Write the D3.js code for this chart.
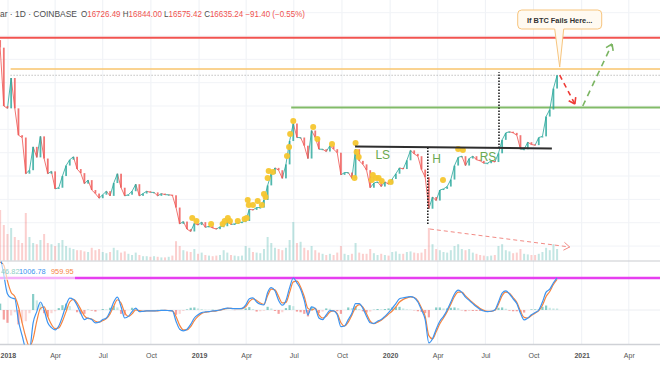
<!DOCTYPE html>
<html>
<head>
<meta charset="utf-8">
<script src="https://cdn.jsdelivr.net/npm/d3@7"></script>
<style>
  body { margin: 0; background: #fff; }
  svg { display: block; font-family: "Liberation Sans", Arial, sans-serif; }
</style>
</head>
<body>
<svg id="chart" width="660" height="365"></svg>
<script>
// BTC/USD weekly samples, starting 2017-12-17, one value per week
var firstWeek = "2017-12-17";
var firstOpen = 19650;
var closes = [
  19000, 14000, 13800, 16400, 13800, 11500, 11300, 8200, 8500, 10500,
  9600, 11400, 9500, 8200, 8400, 6900, 7000, 8000, 8900, 9400,
  9650, 8600, 8250, 7350, 7650, 6800, 6500, 6100, 6400, 6700,
  6300, 7400, 8200, 7000, 6300, 6400, 6700, 7300, 6300, 6500,
  6700, 6600, 6600, 6300, 6500, 6400, 6400, 6350, 5300, 3900,
  4100, 3450, 3250, 3950, 3800, 4050, 3600, 3700, 3550, 3450,
  3650, 3700, 4100, 3850, 3900, 4000, 4050, 4150, 5150, 5100,
  5300, 5300, 5950, 7200, 8200, 8700, 8500, 7800, 9000, 11000,
  12500, 11300, 11300, 10600, 9500, 11900, 11300, 10300, 10300, 10100,
  10600, 10300, 10000, 8100, 8300, 8300, 7800, 10300, 9300, 9000,
  8500, 7000, 7400, 7500, 7100, 7500, 7300, 7750, 8200, 8700,
  8600, 9350, 10200, 9900, 9700, 8550, 7900, 5200, 6200, 5900,
  6800, 6900, 7100, 7700, 8900, 9600, 9700, 8900, 9500, 9700,
  9400, 9300, 9100, 9100, 9300, 9200, 9950, 11100, 11700, 11800,
  11700, 11500, 10300, 10300, 10900, 10700, 10650, 11300, 11400, 13100,
  13700, 15500, 16635
];
var volumes = [
  85, 60, 45, 55, 40, 35, 30, 80, 40, 30,
  28, 35, 45, 30, 28, 25, 30, 35, 25, 22,
  20, 18, 18, 16, 15, 22, 18, 20, 15, 13,
  15, 22, 18, 14, 16, 12, 10, 14, 10, 8,
  8, 7, 8, 7, 6, 6, 7, 9, 33, 25,
  18, 16, 15, 20, 12, 14, 10, 9, 8, 9,
  10, 18, 14, 10, 9, 8, 9, 25, 22, 15,
  14, 13, 20, 40, 30, 22, 20, 18, 22, 35,
  65, 30, 32, 22, 18, 25, 18, 14, 12, 10,
  12, 10, 14, 25, 12, 10, 12, 30, 14, 12,
  12, 20, 13, 10, 12, 10, 9, 15, 16, 12,
  12, 15, 16, 14, 13, 14, 20, 55, 28, 20,
  18, 15, 14, 18, 25, 28, 20, 18, 20, 14,
  12, 10, 9, 8, 9, 10, 25, 28, 18, 16,
  13, 14, 20, 12, 11, 10, 10, 12, 15, 22,
  18, 28, 20
];
var macd = [
  1700, 1100, 500, 380, 350, -350, -800, -1200, -1250, -400,
  -50, 250, 0, -400, -550, -620, -500, -200, 150, 370,
  330, 150, -100, -300, -250, -300, -400, -380, -300, -250,
  -50, 250, 400, 100, -250, -200, -50, 60, -50, -40,
  -30, -30, -30, -20, -10, -10, -20, -30, -350, -600,
  -650, -600, -450, -250, -150, -80, -60, -50, -30, -20,
  0, 40, 60, 50, 40, 40, 50, 150, 350, 380,
  250, 180, 160, 550, 700, 600, 300, 150, 300, 700,
  1000, 850, 650, 300, -150, 100, 50, -250, -300, -150,
  -20, -30, -150, -520, -500, -300, -100, 200, 200, 50,
  -200, -400, -420, -350, -300, -200, -80, 50, 200, 350,
  380, 400, 420, 380, 250, 0, -300, -1030, -900, -600,
  -350, -200, 0, 250, 500, 620, 550, 400, 300, 200,
  100, 20, -30, -50, -40, 0, 250, 530, 600, 500,
  350, 200, -100, -310, -250, -150, -80, 0, 250, 560,
  650, 850, 1006.78
];
var signal = [
  1500, 1400, 900, 550, 420, 100, -400, -850, -1150, -900,
  -350, 50, 100, -200, -450, -580, -560, -350, -50, 250,
  330, 220, 20, -180, -260, -280, -350, -380, -330, -270,
  -120, 120, 320, 220, -80, -200, -120, 0, -20, -40,
  -30, -30, -30, -25, -15, -10, -15, -25, -200, -480,
  -620, -620, -520, -330, -200, -110, -70, -55, -40, -25,
  -5, 25, 50, 50, 45, 40, 45, 100, 260, 350,
  300, 220, 180, 450, 650, 630, 420, 220, 240, 550,
  880, 900, 720, 420, 50, 0, 50, -150, -250, -200,
  -60, -30, -110, -400, -500, -380, -160, 80, 170, 90,
  -120, -350, -430, -380, -320, -230, -130, -30, 100, 250,
  330, 380, 410, 390, 290, 60, -200, -800, -900, -680,
  -430, -250, -50, 180, 420, 560, 560, 440, 330, 230,
  130, 50, -10, -40, -40, -10, 180, 450, 560, 520,
  390, 240, -30, -230, -250, -170, -100, -20, 150, 420,
  580, 800, 959.95
];

// yellow signal markers [date, price]
var dots = [
  ["2018-12-19", 4400], ["2018-12-27", 4145], ["2019-01-24", 3890], ["2019-02-15", 3890],
  ["2019-02-19", 4145], ["2019-02-25", 4400], ["2019-03-01", 4145], ["2019-03-16", 4145],
  ["2019-03-29", 4320], ["2019-04-02", 4400], ["2019-04-04", 5945], ["2019-04-06", 5515],
  ["2019-04-14", 5515], ["2019-04-23", 5860], ["2019-05-01", 5515], ["2019-05-05", 6460],
  ["2019-05-08", 6200], ["2019-05-12", 7830], ["2019-05-14", 8430], ["2019-05-22", 8345],
  ["2019-06-18", 9715], ["2019-06-22", 10490], ["2019-06-24", 11600], ["2019-06-30", 12715],
  ["2019-08-07", 12200], ["2019-08-15", 11170], ["2019-09-12", 10745], ["2019-10-25", 7830],
  ["2019-10-27", 10830], ["2019-10-29", 10060], ["2019-11-02", 9630], ["2019-11-27", 7660],
  ["2019-11-29", 8090], ["2019-12-05", 7830], ["2019-12-10", 7830], ["2019-12-16", 7570],
  ["2020-01-02", 7490], ["2020-04-11", 7660], ["2020-05-10", 10315], ["2020-05-19", 10230]
];

// drawn levels and pattern annotations
var levelPrices = [19850, 17170, 13880];
var levelStarts = ["2017-12-01", "2018-01-06", "2019-06-26"];
var necklineDates = ["2019-10-26", "2020-11-05"];
var necklinePrices = [10530, 10360];
var moveDates = ["2020-03-13", "2020-07-27"];
var moveFrom = [10450, 10400];
var moveTo = [3800, 16900];
var patternLabels = ["LS", "H", "RS"];
var patternDates = ["2019-12-18", "2020-03-30", "2020-07-06"];
var patternPrices = [9800, 9460, 9630];
var volArrow = [["2020-03-17", 3460], ["2020-12-09", 1920]];
var failArrow = [["2020-11-20", 16650], ["2020-12-19", 14170]];
var bounceArrow = [["2021-01-03", 14000], ["2021-02-28", 19310]];
var callout = ["2020-11-20", 17340];
var calloutText = "If BTC Fails Here...";

var gridPrices = [2000, 4000, 6000, 8000, 10000, 12000, 14000, 16000, 18000, 20000, 22000];
var xTickDates = ["2018-01-01", "2018-04-01", "2018-07-01", "2018-10-01", "2019-01-01", "2019-04-01",
  "2019-07-01", "2019-10-01", "2020-01-01", "2020-04-01", "2020-07-01", "2020-10-01", "2021-01-01", "2021-04-01"];
var xTickLabels = ["2018", "Apr", "Jul", "Oct", "2019", "Apr", "Jul", "Oct", "2020", "Apr", "Jul", "Oct", "2021", "Apr"];

var headerName = "ar · 1D · COINBASE";
var ohlcLetters = ["O", "H", "L", "C"];
var ohlcValues = ["16726.49", "16844.00", "16575.42", "16635.24"];
var changeText = "−91.40 (−0.55%)";
var macdLegend = ["46.82", "1006.78", "959.95"];

var UP = "#26a69a", DOWN = "#ef5350";

var svg = d3.select("#chart");
var parse = d3.utcParse("%Y-%m-%d");

var x = d3.scaleUtc().domain([parse("2018-01-01"), parse("2021-01-01")]).range([8, 581.7]);
var y = d3.scaleLinear().domain([0, 23000]).range([269.4, 1]);
var yVol = d3.scaleLinear().domain([0, 100]).range([261, 201]);
var yMacd = d3.scaleLinear().domain([0, 1000]).range([310, 278]);

var start = parse(firstWeek);
var bars = closes.map(function(c, i) {
  return {
    date: d3.utcDay.offset(start, 7 * i),
    open: i ? closes[i - 1] : firstOpen,
    close: c,
    vol: volumes[i],
    macd: macd[i],
    signal: signal[i],
    hist: macd[i] - signal[i]
  };
});

var defs = svg.append("defs");
defs.append("clipPath").attr("id", "pricePane").append("rect")
  .attr("x", 0).attr("y", 0).attr("width", 660).attr("height", 260.5);
defs.append("clipPath").attr("id", "macdPane").append("rect")
  .attr("x", 0).attr("y", 261.5).attr("width", 660).attr("height", 83);

// grid
var grid = svg.append("g");
grid.selectAll("line.v")
  .data(xTickDates)
  .enter()
  .append("line")
    .attr("x1", function(d) { return x(parse(d)); })
    .attr("x2", function(d) { return x(parse(d)); })
    .attr("y1", 0).attr("y2", 344)
    .attr("stroke", "#eef1f5").attr("stroke-width", 1);
grid.selectAll("line.h")
  .data(gridPrices)
  .enter()
  .append("line")
    .attr("x1", 0).attr("x2", 660)
    .attr("y1", function(d) { return y(d); })
    .attr("y2", function(d) { return y(d); })
    .attr("stroke", "#f1f3f7").attr("stroke-width", 1);

var price = svg.append("g").attr("clip-path", "url(#pricePane)");

// volume
price.append("g")
  .selectAll("rect")
  .data(bars)
  .enter()
  .append("rect")
    .attr("x", function(d) { return x(d.date) - 1; })
    .attr("width", 2)
    .attr("y", function(d) { return yVol(d.vol); })
    .attr("height", function(d) { return yVol(0) - yVol(d.vol); })
    .attr("fill", function(d) { return d.close >= d.open ? UP : DOWN; })
    .attr("opacity", 0.28);

// horizontal levels
var levelColors = ["#f25450", "#f9c46c", "#82bb68"];
var levelWidths = [2, 1.5, 2];
price.selectAll("line.level")
  .data(levelPrices)
  .enter()
  .append("line")
    .attr("x1", function(d, i) { return x(parse(levelStarts[i])); })
    .attr("x2", 660)
    .attr("y1", function(d) { return y(d); })
    .attr("y2", function(d) { return y(d); })
    .attr("stroke", function(d, i) { return levelColors[i]; })
    .attr("stroke-width", function(d, i) { return levelWidths[i]; });

// last price line
var lastClose = closes[closes.length - 1];
price.append("line")
  .attr("x1", x(parse(levelStarts[1]))).attr("x2", 660)
  .attr("y1", y(lastClose)).attr("y2", y(lastClose))
  .attr("stroke", "#8c8c8c").attr("stroke-width", 0.8).attr("stroke-dasharray", "1,2");

// candles: thin link between closes plus narrow bodies
price.append("g")
  .selectAll("line")
  .data(bars.slice(1))
  .enter()
  .append("line")
    .attr("x1", function(d, i) { return x(bars[i].date); })
    .attr("y1", function(d) { return y(d.open); })
    .attr("x2", function(d) { return x(d.date); })
    .attr("y2", function(d) { return y(d.close); })
    .attr("stroke", function(d) { return d.close >= d.open ? UP : DOWN; })
    .attr("stroke-width", 1)
    .attr("opacity", 0.8);
price.append("g")
  .selectAll("rect")
  .data(bars)
  .enter()
  .append("rect")
    .attr("x", function(d) { return x(d.date) - 0.9; })
    .attr("width", 1.8)
    .attr("y", function(d) { return y(Math.max(d.open, d.close)); })
    .attr("height", function(d) { return Math.max(1, Math.abs(y(d.open) - y(d.close))); })
    .attr("fill", function(d) { return d.close >= d.open ? UP : DOWN; })
    .attr("opacity", 0.8);

// yellow markers
price.append("g")
  .selectAll("circle")
  .data(dots)
  .enter()
  .append("circle")
    .attr("cx", function(d) { return x(parse(d[0])); })
    .attr("cy", function(d) { return y(d[1]); })
    .attr("r", 3)
    .attr("fill", "#f5c62f")
    .attr("opacity", 0.95);

// neckline
price.append("line")
  .attr("x1", x(parse(necklineDates[0]))).attr("y1", y(necklinePrices[0]))
  .attr("x2", x(parse(necklineDates[1]))).attr("y2", y(necklinePrices[1]))
  .attr("stroke", "#2e2e2e").attr("stroke-width", 2);

// measured move
price.selectAll("line.move")
  .data(moveDates)
  .enter()
  .append("line")
    .attr("x1", function(d) { return x(parse(d)); })
    .attr("x2", function(d) { return x(parse(d)); })
    .attr("y1", function(d, i) { return y(moveFrom[i]); })
    .attr("y2", function(d, i) { return y(moveTo[i]); })
    .attr("stroke", "#222").attr("stroke-width", 1.6).attr("stroke-dasharray", "1.5,1.5");

// LS / H / RS
price.selectAll("text.pattern")
  .data(patternLabels)
  .enter()
  .append("text")
    .attr("x", function(d, i) { return x(parse(patternDates[i])); })
    .attr("y", function(d, i) { return y(patternPrices[i]); })
    .attr("dy", "0.36em")
    .attr("text-anchor", "middle")
    .attr("font-size", 12)
    .attr("fill", "#6aa84f")
    .text(function(d) { return d; });

function arrow(g, pts, color, dash, w) {
  var x0 = x(parse(pts[0][0])), y0 = y(pts[0][1]);
  var x1 = x(parse(pts[1][0])), y1 = y(pts[1][1]);
  g.append("line")
    .attr("x1", x0).attr("y1", y0).attr("x2", x1).attr("y2", y1)
    .attr("stroke", color).attr("stroke-width", w).attr("stroke-dasharray", dash);
  var a = Math.atan2(y1 - y0, x1 - x0);
  [a + Math.PI - 0.6, a + Math.PI + 0.6].forEach(function(b) {
    g.append("line")
      .attr("x1", x1).attr("y1", y1)
      .attr("x2", x1 + 7 * Math.cos(b)).attr("y2", y1 + 7 * Math.sin(b))
      .attr("stroke", color).attr("stroke-width", w);
  });
}
arrow(price, volArrow, "#f28b85", "4,3", 1);
arrow(price, failArrow, "#ee3b36", "5,4", 1.6);
arrow(price, bounceArrow, "#7bb562", "6,5", 1.6);

// callout
var tipX = x(parse(callout[0])), tipY = y(callout[1]);
var bx0 = tipX - 42, bx1 = tipX + 42, by0 = 10, by1 = 29, r = 4;
var path = d3.path();
path.moveTo(bx0 + r, by0);
path.lineTo(bx1 - r, by0);
path.quadraticCurveTo(bx1, by0, bx1, by0 + r);
path.lineTo(bx1, by1 - r);
path.quadraticCurveTo(bx1, by1, bx1 - r, by1);
path.lineTo(tipX + 4, by1);
path.lineTo(tipX, tipY);
path.lineTo(tipX - 5, by1);
path.lineTo(bx0 + r, by1);
path.quadraticCurveTo(bx0, by1, bx0, by1 - r);
path.lineTo(bx0, by0 + r);
path.quadraticCurveTo(bx0, by0, bx0 + r, by0);
path.closePath();
svg.append("path")
  .attr("d", path.toString())
  .attr("fill", "#fffaf1")
  .attr("stroke", "#f7c57e")
  .attr("stroke-width", 1);
svg.append("text")
  .attr("x", tipX).attr("y", 22.5)
  .attr("text-anchor", "middle")
  .attr("font-size", 7.4)
  .attr("font-weight", "bold")
  .attr("fill", "#333")
  .text(calloutText);

// header
svg.append("text")
  .attr("x", 0).attr("y", 17)
  .attr("font-size", 8.2)
  .attr("fill", "#4d4d4d")
  .attr("textLength", 77)
  .attr("lengthAdjust", "spacingAndGlyphs")
  .text(headerName);
var ohlc = svg.append("text")
  .attr("x", 81).attr("y", 17)
  .attr("font-size", 8.2)
  .attr("textLength", 224)
  .attr("lengthAdjust", "spacingAndGlyphs");
ohlcLetters.forEach(function(l, i) {
  ohlc.append("tspan").attr("fill", "#4d4d4d").text((i ? " " : "") + l);
  ohlc.append("tspan").attr("fill", DOWN).text(ohlcValues[i]);
});
ohlc.append("tspan").attr("fill", DOWN).text(" " + changeText);

// pane separators
svg.append("line").attr("x1", 0).attr("x2", 660).attr("y1", 261).attr("y2", 261)
  .attr("stroke", "#c9cbd0").attr("stroke-width", 1.2);
svg.append("line").attr("x1", 0).attr("x2", 660).attr("y1", 344.5).attr("y2", 344.5)
  .attr("stroke", "#cfd1d6").attr("stroke-width", 1.5);

// MACD pane
var mp = svg.append("g").attr("clip-path", "url(#macdPane)");
mp.append("line").attr("x1", 0).attr("x2", 660).attr("y1", yMacd(0)).attr("y2", yMacd(0))
  .attr("stroke", "#eceef2").attr("stroke-width", 1);

mp.append("g")
  .selectAll("rect")
  .data(bars)
  .enter()
  .append("rect")
    .attr("x", function(d) { return x(d.date) - 1.1; })
    .attr("width", 2.2)
    .attr("y", function(d) { return yMacd(Math.max(0, d.hist)); })
    .attr("height", function(d) { return Math.abs(yMacd(d.hist) - yMacd(0)); })
    .attr("fill", function(d, i) {
      var prev = i ? bars[i - 1].hist : d.hist;
      if (d.hist >= 0) return d.hist >= prev ? UP : "#9fd8d1";
      return d.hist <= prev ? DOWN : "#f7b4b3";
    })
    .attr("opacity", 0.55);

mp.append("line").attr("x1", 0).attr("x2", 660).attr("y1", 278).attr("y2", 278)
  .attr("stroke", "#e63ff0").attr("stroke-width", 2.5);

var lineSig = d3.line()
  .x(function(d) { return x(d.date); })
  .y(function(d) { return yMacd(d.signal); })
  .curve(d3.curveMonotoneX);
var lineMacd = d3.line()
  .x(function(d) { return x(d.date); })
  .y(function(d) { return yMacd(d.macd); })
  .curve(d3.curveMonotoneX);
mp.append("path").datum(bars).attr("d", lineSig)
  .attr("fill", "none").attr("stroke", "#f7843e").attr("stroke-width", 1.2);
mp.append("path").datum(bars).attr("d", lineMacd)
  .attr("fill", "none").attr("stroke", "#3d94f0").attr("stroke-width", 1.2);

// MACD legend
svg.append("rect").attr("x", 0).attr("y", 264).attr("width", 75).attr("height", 16)
  .attr("fill", "#fff").attr("opacity", 0.6);
var legendColors = ["#8fcfc6", "#3d94f0", "#f7843e"];
var legendX = [1, 19, 51];
svg.selectAll("text.legend")
  .data(macdLegend)
  .enter()
  .append("text")
    .attr("x", function(d, i) { return legendX[i]; })
    .attr("y", 274)
    .attr("font-size", 7.4)
    .attr("fill", function(d, i) { return legendColors[i]; })
    .text(function(d) { return d; });

// time axis
var axis = d3.axisBottom(x)
  .tickValues(xTickDates.map(parse))
  .tickSize(0)
  .tickPadding(0)
  .tickFormat(function(d, i) { return xTickLabels[i]; });
var ax = svg.append("g").attr("transform", "translate(0,353)").call(axis);
ax.select(".domain").remove();
ax.selectAll("text")
  .attr("font-size", 7)
  .attr("font-family", "Liberation Sans, Arial, sans-serif")
  .attr("fill", "#555")
  .attr("font-weight", function(d, i) { return /^\d+$/.test(xTickLabels[i]) ? "bold" : "normal"; })
  .attr("text-anchor", function(d, i) { return i === 0 ? "start" : "middle"; })
  .attr("x", function(d, i) { return i === 0 ? -8 : 0; });
</script>
</body>
</html>
